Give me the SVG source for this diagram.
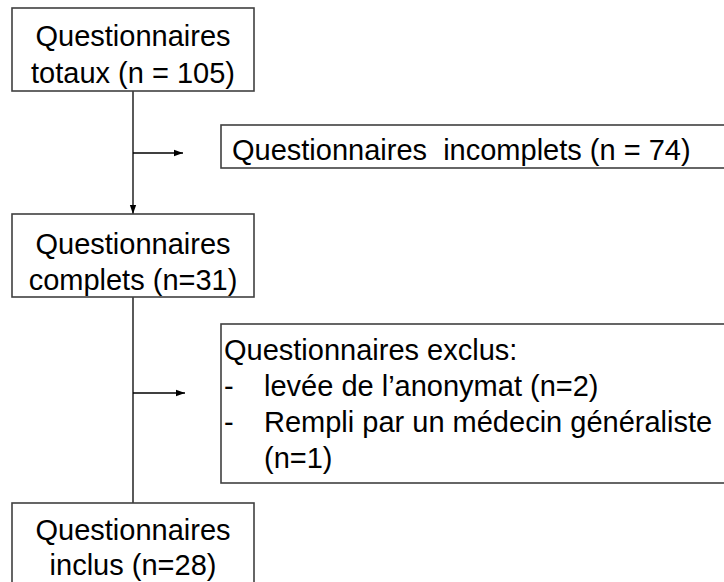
<svg xmlns="http://www.w3.org/2000/svg" width="724" height="582" viewBox="0 0 724 582">
<style>
.box{fill:#fff;stroke:#404040;stroke-width:1.6}
.t{font-family:"Liberation Sans",Arial,sans-serif;font-size:29px;fill:#000}
.c{text-anchor:middle}
.con{fill:none;stroke:#000;stroke-width:1.3}
</style>
<defs>
<marker id="ah" viewBox="0 0 10 10" refX="10" refY="5" markerWidth="9" markerHeight="9" markerUnits="userSpaceOnUse" orient="auto">
<path d="M0,1.5 L10,5 L0,8.5 z" fill="#000"/>
</marker>
</defs>
<g id="connectors">
<line class="con" x1="133" y1="91" x2="133" y2="214" marker-end="url(#ah)"/>
<line class="con" x1="133" y1="153" x2="183" y2="153" marker-end="url(#ah)"/>
<line class="con" x1="133" y1="297" x2="133" y2="503"/>
<line class="con" x1="133" y1="393" x2="185" y2="393" marker-end="url(#ah)"/>
</g>
<g id="n1">
<rect class="box" x="12" y="8" width="242" height="83"/>
<text class="t c" x="133" y="46">Questionnaires</text>
<text class="t c" x="133" y="83">totaux (n = 105)</text>
</g>
<g id="n2">
<rect class="box" x="221" y="125" width="510" height="43"/>
<text class="t" x="232" y="160" xml:space="preserve">Questionnaires  incomplets (n = 74)</text>
</g>
<g id="n3">
<rect class="box" x="12" y="214" width="242" height="83"/>
<text class="t c" x="133" y="254">Questionnaires</text>
<text class="t c" x="133" y="290">complets (n=31)</text>
</g>
<g id="n4">
<rect class="box" x="221" y="324" width="510" height="159"/>
<text class="t" x="224" y="360">Questionnaires exclus:</text>
<text class="t" x="224" y="396">-</text>
<text class="t" x="264" y="396">levée de l’anonymat (n=2)</text>
<text class="t" x="224" y="432">-</text>
<text class="t" x="264" y="432">Rempli par un médecin généraliste</text>
<text class="t" x="264" y="468">(n=1)</text>
</g>
<g id="n5">
<rect class="box" x="12" y="503" width="242" height="90"/>
<text class="t c" x="133" y="540">Questionnaires</text>
<text class="t c" x="133" y="575">inclus (n=28)</text>
</g>
</svg>
